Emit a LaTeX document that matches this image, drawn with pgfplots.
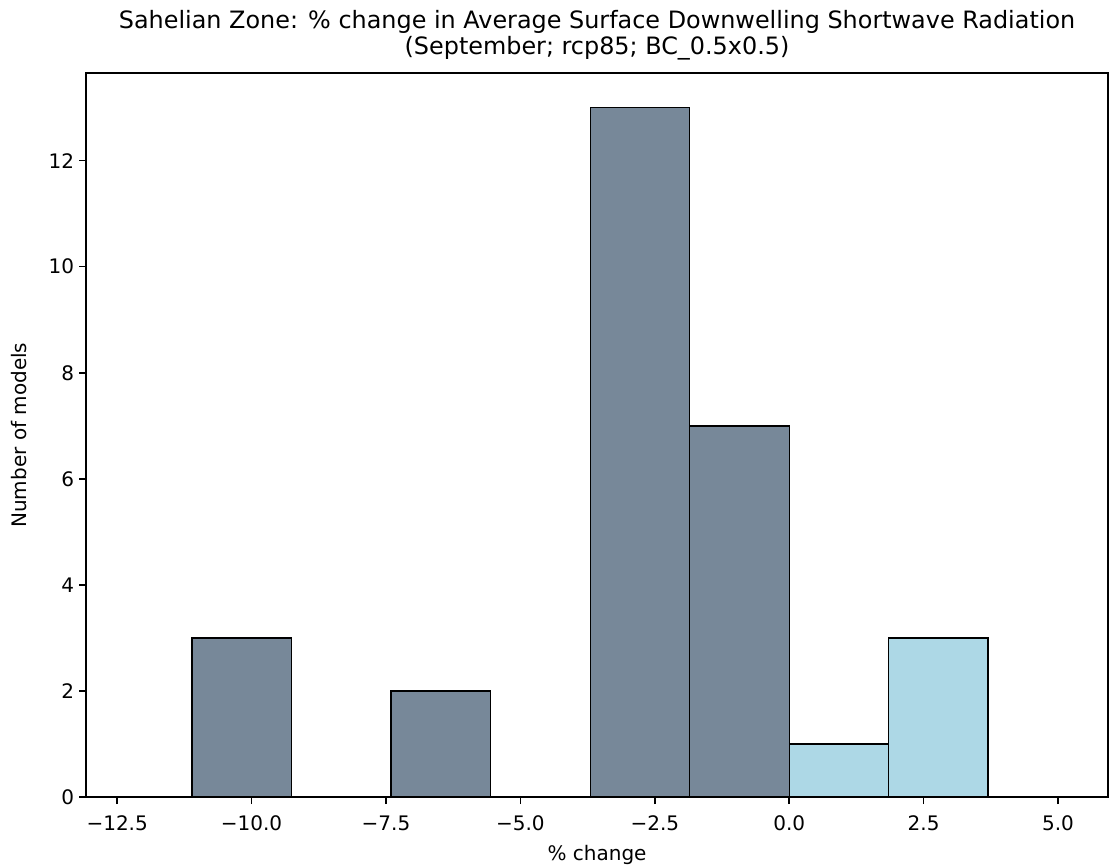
\documentclass[border=0pt]{standalone}
\usepackage{pgfplots}
\pgfplotsset{compat=1.18}
\usetikzlibrary{calc}
\usepackage{fontspec}
\setmainfont{DejaVu Sans}
\definecolor{slate}{HTML}{778899}
\definecolor{lblue}{HTML}{ADD8E6}
\begin{document}
\begin{tikzpicture}
\begin{axis}[
  scale only axis,
  width=735.8pt, height=521.3pt,
  xmin=-13.08, xmax=5.93, ymin=0, ymax=13.65,
  axis line style={black, line width=1.1pt},
  xtick={-12.5,-10,-7.5,-5,-2.5,0,2.5,5},
  xticklabels={−12.5,−10.0,−7.5,−5.0,−2.5,0.0,2.5,5.0},
  ytick={0,2,4,6,8,10,12},
  yticklabel style={/pgf/number format/assume math mode=true},
  tick label style={font=\fontsize{14.4}{17}\selectfont},
  xticklabel style={yshift=-4.6pt},
  tick align=outside, tick pos=left,
  major tick length=5pt,
  every tick/.style={black, line width=1.1pt},
  xlabel={\% change},
  ylabel={Number of models},
  xlabel style={yshift=-3.4pt},
  ylabel style={yshift=9pt},
  label style={font=\fontsize{14.4}{17}\selectfont},
  title={Sahelian Zone: \% change in Average Surface Downwelling Shortwave Radiation\\(September; rcp85; BC\_0.5x0.5)},
  title style={font=\fontsize{17.2}{18.5}\selectfont, align=center, yshift=0pt},
]
\addplot[ybar interval, fill=slate, draw=black, line width=1pt] coordinates {
  (-11.11,3) (-9.26,3)
};
\addplot[ybar interval, fill=slate, draw=black, line width=1pt] coordinates {
  (-7.41,2) (-5.56,2)
};
\addplot[ybar interval, fill=slate, draw=black, line width=1pt] coordinates {
  (-3.70,13) (-1.85,7) (0,0)
};
\addplot[ybar interval, fill=lblue, draw=black, line width=1pt] coordinates {
  (0,1) (1.85,3) (3.70,0)
};
\end{axis}
\pgfresetboundingbox
\path[use as bounding box] ($(current axis.south west)+(-61.9pt,-49pt)$) rectangle ($(current axis.north east)+(1.4pt,52.6pt)$);
\end{tikzpicture}
\end{document}
